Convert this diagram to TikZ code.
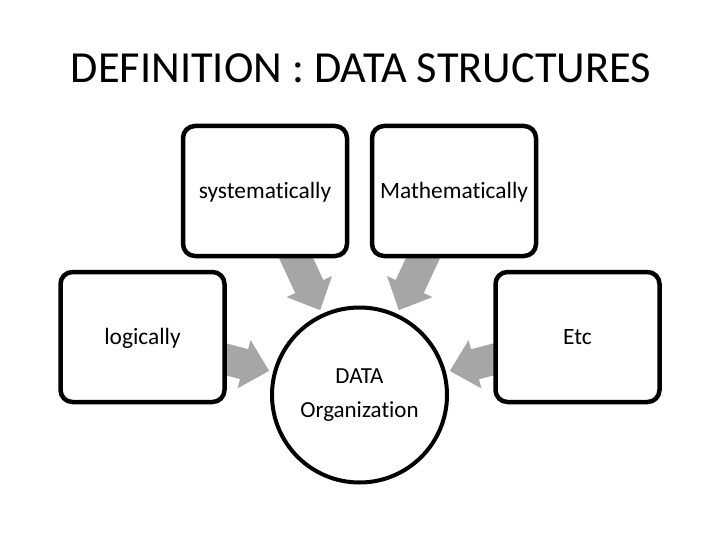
\documentclass[tikz,border=0pt]{standalone}
\usepackage{fontspec}
\setmainfont[Ligatures=NoCommon]{Carlito}
\usetikzlibrary{calc,backgrounds}
\definecolor{arrgray}{HTML}{A6A6A6}
\newcommand\blkarrow[2]{% #1 = hub node, #2 = outer box node
  \coordinate (T-#2) at ($(#1)!93.5pt!(#2)$);
  \coordinate (H-#2) at ($(#1)!119.5pt!(#2)$);
  \coordinate (E-#2) at ($(#1)!200pt!(#2)$);
  \fill[arrgray] (T-#2) -- ($(H-#2)!25pt!90:(#2)$) -- ($(H-#2)!15.5pt!90:(#2)$)
    -- ($(E-#2)!15.5pt!90:(#2)$) -- ($(E-#2)!15.5pt!-90:(#2)$)
    -- ($(H-#2)!15.5pt!-90:(#2)$) -- ($(H-#2)!25pt!-90:(#2)$) -- cycle;}
\begin{document}
\begin{tikzpicture}[x=1pt,y=-1pt,
  box/.style={draw=black, line width=4.5pt, fill=white, rounded corners=12pt,
    minimum width=164pt, minimum height=130pt, inner sep=0pt,
    text height=15pt, text depth=0pt,
    font=\fontsize{23.4}{34}\selectfont},
  hub/.style={circle, draw=black, line width=4pt, fill=white, minimum size=175pt,
    inner sep=0pt, align=center, font=\fontsize{23}{34}\selectfont}]
\useasboundingbox (0,0) rectangle (720,540);
\node[font=\fontsize{44.4}{53}\selectfont, anchor=base, inner sep=0pt] (title) at (361,83) {DEFINITION : DATA STRUCTURES};
\node[box] (b1) at (265,191) {systematically};
\node[box] (b2) at (454,191) {Mathematically};
\node[box] (b3) at (142.5,337) {logically};
\node[box] (b4) at (577.5,337) {Etc};
\node[hub] (c) at (359.5,395) {DATA\\Organization};
\begin{scope}[on background layer]
  \blkarrow{c}{b1}
  \blkarrow{c}{b2}
  \blkarrow{c}{b3}
  \blkarrow{c}{b4}
\end{scope}
\end{tikzpicture}
\end{document}
